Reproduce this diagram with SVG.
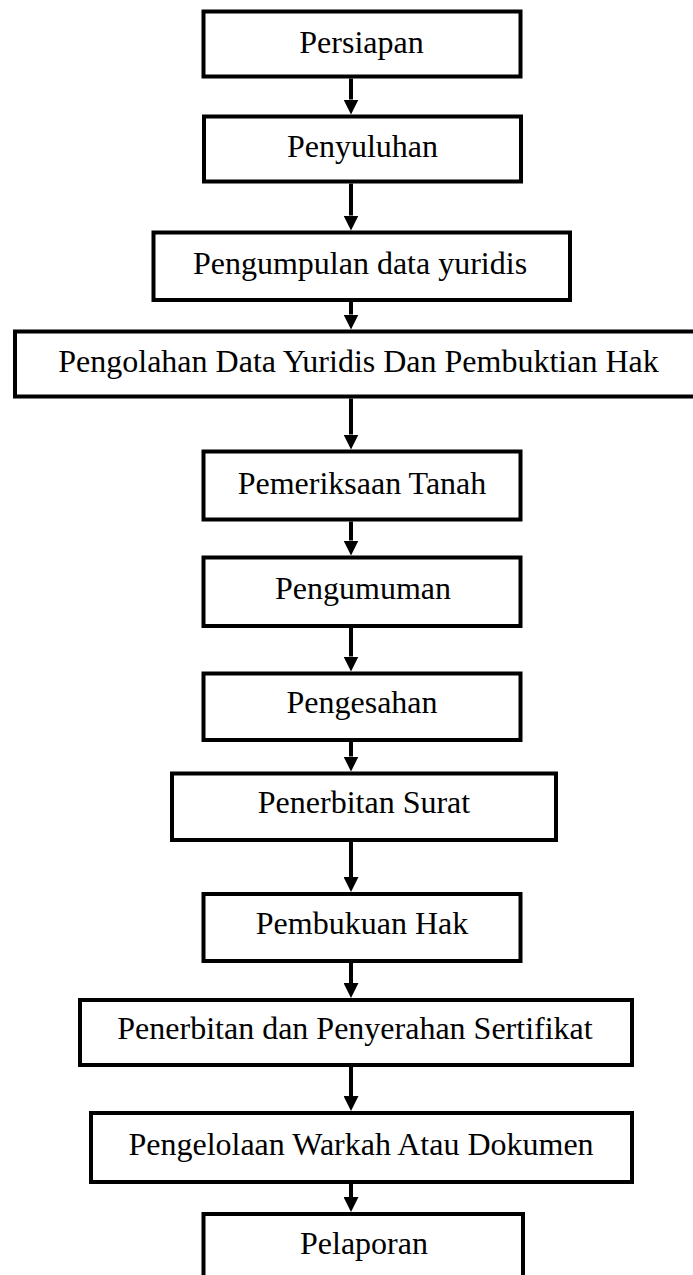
<svg xmlns="http://www.w3.org/2000/svg" width="693" height="1275" viewBox="0 0 693 1275">
<style>
.box{fill:#fff;stroke:#000;stroke-width:4}
.lbl{font-family:"Liberation Serif","Times New Roman",serif;font-size:32px;fill:#000;text-anchor:middle}
.con{stroke:#000;stroke-width:4;fill:none;marker-end:url(#ah)}
</style>
<defs>
<marker id="ah" markerUnits="userSpaceOnUse" markerWidth="15" markerHeight="15" refX="0" refY="7.5" orient="auto" viewBox="0 0 15 15">
<path d="M0,0 L15,7.5 L0,15 z" fill="#000"/>
</marker>
</defs>
<rect width="693" height="1275" fill="#fff"/>
<g id="connectors">
<line class="con" x1="351" y1="78.5" x2="351" y2="99.5"/>
<line class="con" x1="351" y1="183.5" x2="351" y2="215.5"/>
<line class="con" x1="351" y1="302" x2="351" y2="314.5"/>
<line class="con" x1="351" y1="398.5" x2="351" y2="434.5"/>
<line class="con" x1="351" y1="521.5" x2="351" y2="540.5"/>
<line class="con" x1="351" y1="628" x2="351" y2="656.5"/>
<line class="con" x1="351" y1="742" x2="351" y2="756.5"/>
<line class="con" x1="351" y1="842" x2="351" y2="877"/>
<line class="con" x1="351" y1="963" x2="351" y2="983"/>
<line class="con" x1="351" y1="1067" x2="351" y2="1096"/>
<line class="con" x1="351" y1="1184" x2="351" y2="1197"/>
</g>
<g id="n1"><rect class="box" x="203.5" y="11.5" width="317" height="65"/><text class="lbl" x="361.5" y="53">Persiapan</text></g>
<g id="n2"><rect class="box" x="204" y="116.5" width="317" height="65"/><text class="lbl" x="362.5" y="157">Penyuluhan</text></g>
<g id="n3"><rect class="box" x="153.5" y="232.5" width="416.5" height="67.5"/><text class="lbl" x="360" y="273.5">Pengumpulan data yuridis</text></g>
<g id="n4"><rect class="box" x="15" y="331.5" width="690" height="65"/><text class="lbl" x="358.5" y="372">Pengolahan Data Yuridis Dan Pembuktian Hak</text></g>
<g id="n5"><rect class="box" x="203.5" y="451.5" width="317" height="68"/><text class="lbl" x="362" y="493.5">Pemeriksaan Tanah</text></g>
<g id="n6"><rect class="box" x="203.5" y="557.5" width="317" height="68.5"/><text class="lbl" x="363" y="598.5">Pengumuman</text></g>
<g id="n7"><rect class="box" x="203.5" y="673.5" width="317" height="66.5"/><text class="lbl" x="362" y="713">Pengesahan</text></g>
<g id="n8"><rect class="box" x="172" y="773.5" width="384" height="66.5"/><text class="lbl" x="364" y="813">Penerbitan Surat</text></g>
<g id="n9"><rect class="box" x="203.5" y="894" width="317" height="67"/><text class="lbl" x="362" y="934">Pembukuan Hak</text></g>
<g id="n10"><rect class="box" x="80" y="1000" width="552" height="65"/><text class="lbl" x="355" y="1039">Penerbitan dan Penyerahan Sertifikat</text></g>
<g id="n11"><rect class="box" x="91" y="1113" width="541" height="69"/><text class="lbl" x="361" y="1155">Pengelolaan Warkah Atau Dokumen</text></g>
<g id="n12"><rect class="box" x="203.5" y="1214" width="319.5" height="70"/><text class="lbl" x="364" y="1254">Pelaporan</text></g>
</svg>
